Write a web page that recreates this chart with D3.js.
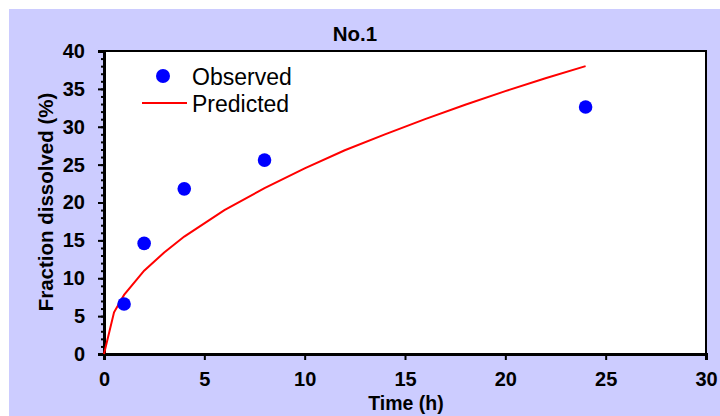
<!DOCTYPE html>
<html>
<head>
<meta charset="utf-8">
<script src="https://cdn.jsdelivr.net/npm/d3@7"></script>
<style>
    body { margin: 0; background: #fff; }
    svg { display: block; font-family: Arial, "Liberation Sans", sans-serif; }
</style>
</head>
<body>
<svg class="chart"></svg>
<script>
// observed dissolution data
var obsTime = [1, 2, 4, 8, 24];
var obsValue = [6.6, 14.6, 21.8, 25.6, 32.6];

// predicted curve
var predTime = [0, 0.5, 1, 2, 3, 4, 6, 8, 10, 12, 14, 16, 18, 20, 22, 24];
var predValue = [0, 5.5, 7.8, 11.0, 13.4, 15.5, 19.0, 21.9, 24.5, 26.9, 29.0, 31.0, 32.9, 34.7, 36.4, 38.0];

var xTicks = [0, 5, 10, 15, 20, 25, 30];
var yTicks = [0, 5, 10, 15, 20, 25, 30, 35, 40];

var width = 720, height = 416;
var margin = {left: 104, right: 14, top: 51, bottom: 62};
var innerWidth = width - margin.left - margin.right;
var innerHeight = height - margin.top - margin.bottom;

var chart = d3.select('.chart')
    .attr('width', width)
    .attr('height', height);

chart.append('rect')
    .attr('x', 9).attr('y', 9)
    .attr('width', width - 9).attr('height', height - 9)
    .attr('fill', '#ccccff');

var x = d3.scaleLinear().domain([0, 30]).range([0, innerWidth]);
var y = d3.scaleLinear().domain([0, 40]).range([innerHeight, 0]);

var inner = chart.append('g')
    .attr('transform', 'translate(' + margin.left + ', ' + margin.top + ')');

inner.append('rect')
    .attr('width', innerWidth).attr('height', innerHeight)
    .attr('fill', '#fff')
    .attr('stroke', '#000')
    .attr('stroke-width', 2);

// minor y ticks
var yMinor = inner.append('g')
    .call(d3.axisLeft(y).tickValues(d3.range(0, 41, 1)).tickSize(3).tickFormat(''));
yMinor.select('.domain').remove();
yMinor.selectAll('line').attr('stroke-width', 2);

var yAxis = inner.append('g')
    .call(d3.axisLeft(y).tickValues(yTicks).tickSize(6).tickPadding(13));
var xAxis = inner.append('g')
    .attr('transform', 'translate(0,' + innerHeight + ')')
    .call(d3.axisBottom(x).tickValues(xTicks).tickSize(6).tickPadding(12));

[xAxis, yAxis].forEach(function(ax) {
    ax.attr('font-size', 20).attr('font-family', null);
    ax.select('.domain').attr('stroke-width', 3);
    ax.selectAll('line').attr('stroke-width', 2);
    ax.selectAll('text')
        .attr('font-weight', 'bold')
        .attr('fill', '#000');
});

var line = d3.line()
    .x(function(d) { return x(d[0]); })
    .y(function(d) { return y(d[1]); });

inner.append('path')
    .datum(d3.zip(predTime, predValue))
    .attr('d', line)
    .attr('fill', 'none')
    .attr('stroke', '#ff0000')
    .attr('stroke-width', 2);

inner.selectAll('circle.obs')
    .data(d3.zip(obsTime, obsValue))
    .enter().append('circle')
    .attr('class', 'obs')
    .attr('cx', function(d) { return x(d[0]); })
    .attr('cy', function(d) { return y(d[1]); })
    .attr('r', 6.8)
    .attr('fill', '#0000ff');

// legend
var legend = chart.append('g');
legend.append('circle')
    .attr('cx', 163).attr('cy', 76).attr('r', 7)
    .attr('fill', '#0000ff');
legend.append('text')
    .attr('x', 192).attr('y', 85)
    .attr('font-size', 23)
    .text('Observed');
legend.append('line')
    .attr('x1', 142).attr('x2', 187)
    .attr('y1', 103).attr('y2', 103)
    .attr('stroke', '#ff0000').attr('stroke-width', 2);
legend.append('text')
    .attr('x', 192).attr('y', 111.5)
    .attr('font-size', 23)
    .text('Predicted');

// titles
chart.append('text')
    .attr('x', 355).attr('y', 40.5)
    .attr('text-anchor', 'middle')
    .attr('font-size', 20.5).attr('font-weight', 'bold')
    .text('No.1');

chart.append('text')
    .attr('x', 406).attr('y', 410)
    .attr('text-anchor', 'middle')
    .attr('font-size', 19.5).attr('font-weight', 'bold')
    .text('Time (h)');

chart.append('text')
    .attr('transform', 'translate(53, 202) rotate(-90)')
    .attr('text-anchor', 'middle')
    .attr('font-size', 20.5).attr('font-weight', 'bold')
    .text('Fraction dissolved (%)');
</script>
</body>
</html>
